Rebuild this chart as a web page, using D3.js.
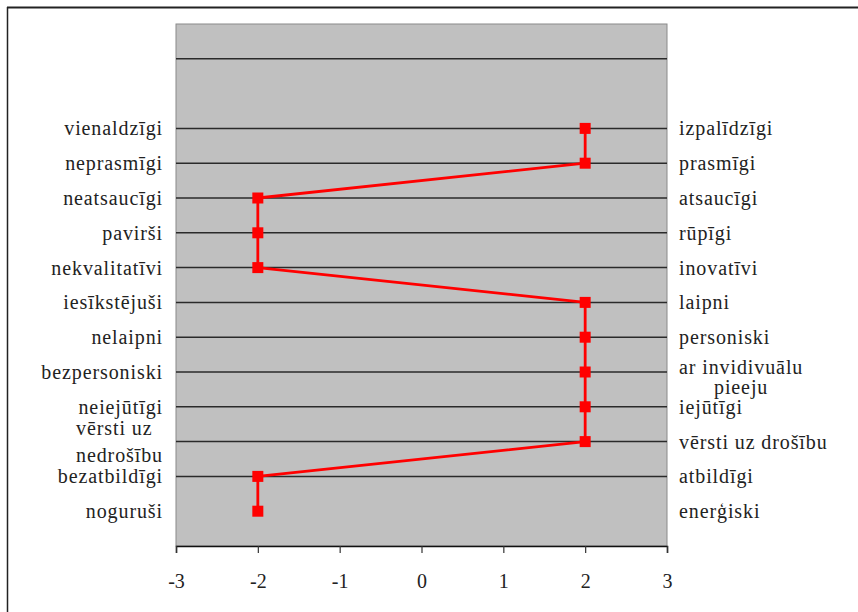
<!DOCTYPE html>
<html><head><meta charset="utf-8">
<script src="https://cdn.jsdelivr.net/npm/d3@7"></script>
<style>body{margin:0;background:#fff}svg{display:block}</style>
</head><body><svg id="c" width="858" height="612"></svg>
<script>
// data
const rowPositions = [12,11,10,9,8,7,6,5,4,3,2,1];
const leftLabels = ["vienaldzīgi","neprasmīgi","neatsaucīgi","pavirši","nekvalitatīvi","iesīkstējuši","nelaipni","bezpersoniski","neiejūtīgi","vērsti uz\nnedrošību","bezatbildīgi","noguruši"];
const rightLabels = ["izpalīdzīgi","prasmīgi","atsaucīgi","rūpīgi","inovatīvi","laipni","personiski","ar invidivuālu\npieeju","iejūtīgi","vērsti uz drošību","atbildīgi","enerģiski"];
const values = [2,2,-2,-2,-2,2,2,2,2,2,-2,-2];
const xTicks = [-3,-2,-1,0,1,2,3];
const gridRows = [2,3,4,5,6,7,8,9,10,11,12,14];

const FONT = "Liberation Serif, DejaVu Serif, serif";
const svg = d3.select("#c");
const L=176,R=667,T=24,B=546;
const x = d3.scaleLinear().domain([-3,3]).range([L,R]);
const y = d3.scaleLinear().domain([0,15]).range([B,T]);

// frame (top and left lines only)
svg.append("line").attr("x1",7).attr("x2",858).attr("y1",7.5).attr("y2",7.5).attr("stroke","#222").attr("stroke-width",2);
svg.append("line").attr("x1",7.5).attr("x2",7.5).attr("y1",7).attr("y2",612).attr("stroke","#222").attr("stroke-width",1.5);

svg.append("rect").attr("x",L).attr("y",T).attr("width",R-L).attr("height",B-T).attr("fill","#c0c0c0").attr("stroke","#8a8a8a").attr("stroke-width",1);

svg.append("g").selectAll("line").data(gridRows).join("line")
  .attr("x1",L).attr("x2",R).attr("y1",d=>y(d)).attr("y2",d=>y(d))
  .attr("stroke","#2a2a2a").attr("stroke-width",1.5);

// x axis
const ax = svg.append("g").attr("transform",`translate(0,${B})`)
  .call(d3.axisBottom(x).tickValues(xTicks).tickSize(7).tickPadding(28).tickFormat(d3.format("d")));
ax.attr("font-family",null).attr("font-size",null);
ax.select(".domain").attr("stroke","#111").attr("stroke-width",1.5);
ax.selectAll(".tick line").attr("stroke","#333").attr("stroke-width",1.2);
ax.selectAll(".tick text").attr("font-size",20).attr("font-family",FONT).attr("fill","#222").attr("dy","0.35em")
  .text(d=>d<0?"-"+Math.abs(d):d);

// line + markers
const pts = values.map((v,i)=>[v,rowPositions[i]]);
svg.append("path").datum(pts)
  .attr("d",d3.line().x(d=>x(d[0])).y(d=>y(d[1])))
  .attr("fill","none").attr("stroke","#ff0000").attr("stroke-width",2.8).attr("stroke-linejoin","round");
svg.append("g").selectAll("rect").data(pts).join("rect")
  .attr("x",d=>x(d[0])-5.5).attr("y",d=>y(d[1])-5.5).attr("width",11).attr("height",11).attr("fill","#ff0000");

// labels
const fs=20, ls=0.9;
function txt(g){return g.append("text").attr("font-family",FONT).attr("font-size",fs).attr("letter-spacing",ls).attr("fill","#222");}
function addLabel(str,row,side){
  const lines=str.split("\n");
  const base=y(row)+7;
  const g=svg.append("g");
  if(lines.length===1){
    txt(g).attr("x",side==="left"?163:679).attr("y",base)
      .attr("text-anchor",side==="left"?"end":"start").text(str);
    return;
  }
  const offs = side==="left"?[-14,13]:[-5,15];
  const ts = lines.map((s,i)=>txt(g).attr("y",base+offs[i]).text(s));
  const W = d3.max(ts,t=>t.node().getComputedTextLength());
  if(side==="left"){
    ts.forEach(t=>t.attr("x",163-W).attr("text-anchor","start"));
  } else {
    ts.forEach(t=>t.attr("x",679+W/2).attr("text-anchor","middle"));
  }
}
leftLabels.forEach((s,i)=>addLabel(s,rowPositions[i],"left"));
rightLabels.forEach((s,i)=>addLabel(s,rowPositions[i],"right"));
</script></body></html>
